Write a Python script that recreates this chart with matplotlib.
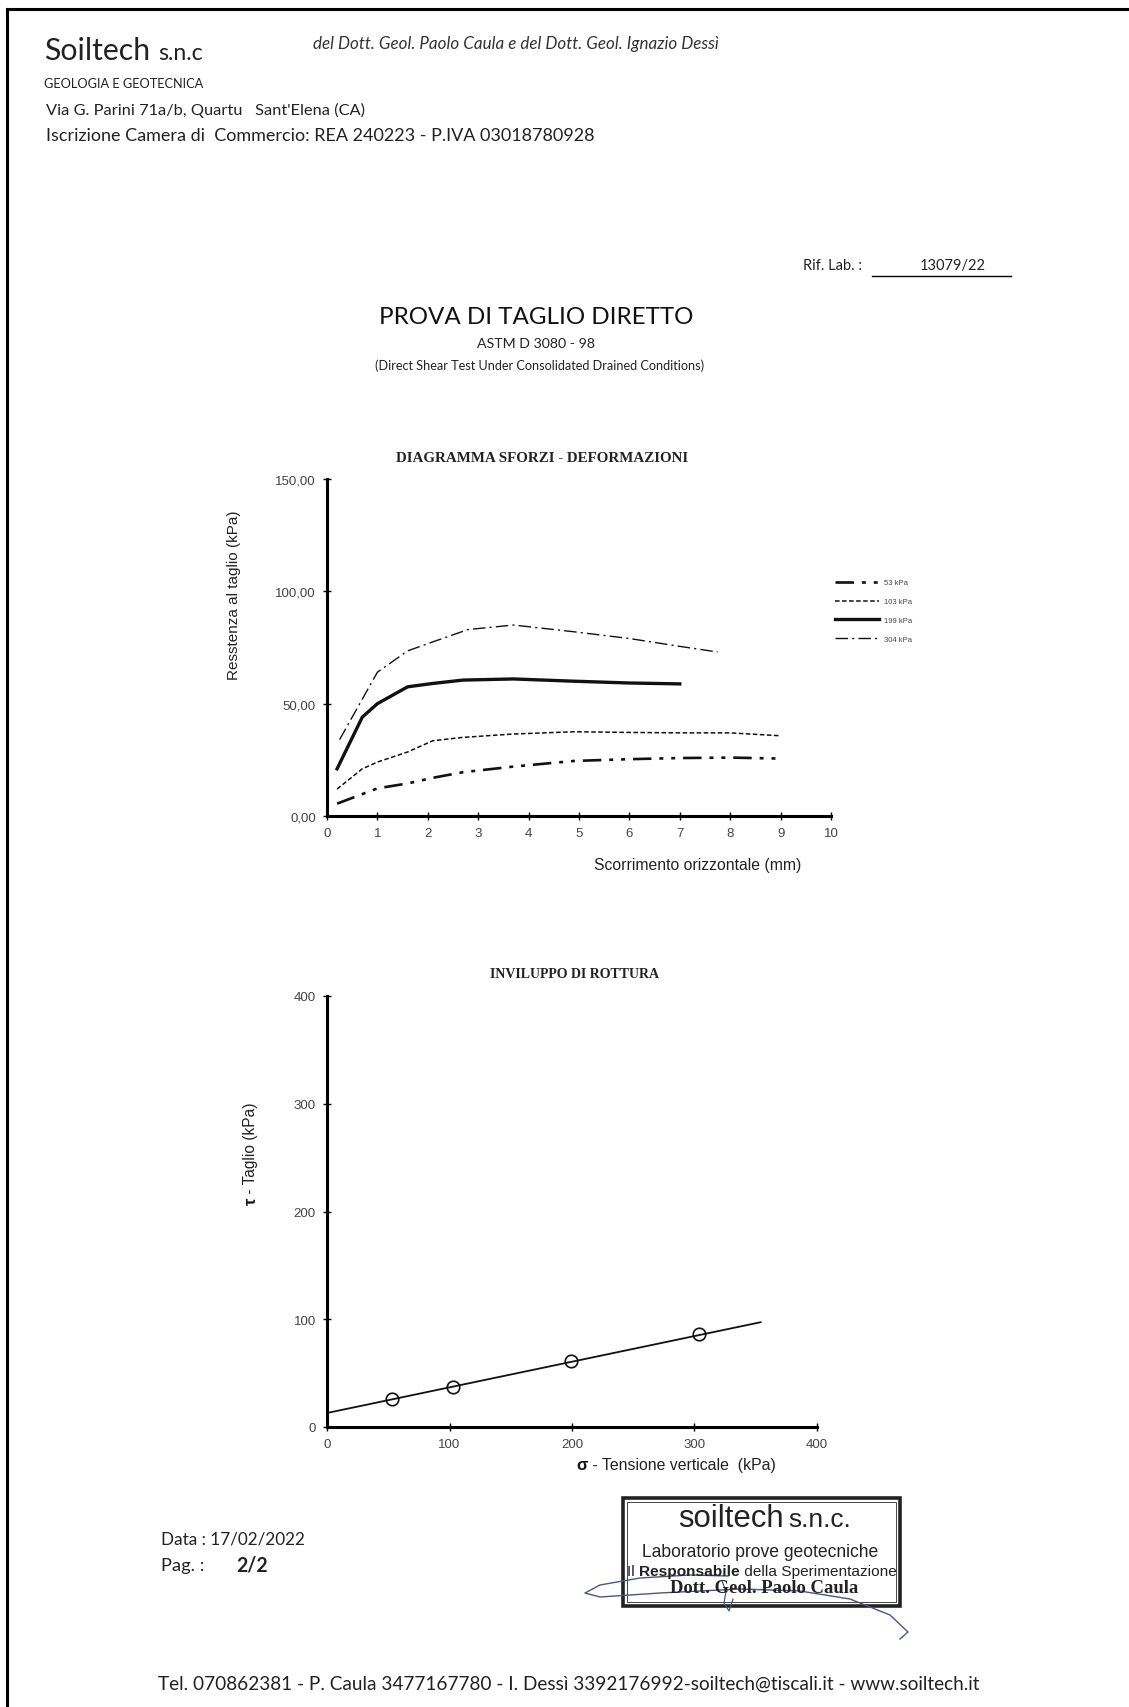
import matplotlib
matplotlib.use("Agg")
import matplotlib.pyplot as plt
from matplotlib.lines import Line2D
from matplotlib.patches import Rectangle
import numpy as np

# ---------------- data ----------------
x_53 = [0.2, 1.0, 1.6, 2.1, 2.7, 3.7, 4.9, 6.0, 7.0, 8.0, 8.9]
y_53 = [5.5, 12.3, 14.5, 17.0, 19.5, 22.0, 24.5, 25.3, 25.8, 26.0, 25.6]
x_103 = [0.2, 0.7, 1.0, 1.6, 2.1, 2.7, 3.7, 4.9, 6.0, 7.0, 8.0, 9.0]
y_103 = [12.0, 21.0, 24.0, 28.5, 33.5, 35.0, 36.5, 37.5, 37.2, 37.0, 37.0, 35.7]
x_199 = [0.2, 0.7, 1.0, 1.6, 2.1, 2.7, 3.7, 4.9, 6.0, 7.0]
y_199 = [21.0, 44.0, 50.0, 57.5, 59.0, 60.5, 61.0, 60.0, 59.2, 58.8]
x_304 = [0.25, 1.0, 1.6, 2.1, 2.8, 3.7, 4.9, 6.0, 7.0, 7.75]
y_304 = [34.0, 64.0, 73.5, 77.5, 83.0, 85.0, 82.0, 79.0, 75.5, 73.0]
legend_labels = ["53 kPa", "103 kPa", "199 kPa", "304 kPa"]

sigma = [53, 103, 199, 304]
tau = [26, 37, 61, 86]
env_c = 13.0          # intercept (kPa)
env_slope = 0.238     # tan(phi)
env_xmax = 354

top_xticks = list(range(0, 11))
top_yticks = [0, 50, 100, 150]
bot_ticks = [0, 100, 200, 300, 400]

# ---------------- figure ----------------
W, H = 1129, 1708
fig = plt.figure(figsize=(W / 100, H / 100), dpi=100)
fig.patch.set_facecolor("white")
R = fig.canvas.get_renderer()

HEAD = ["Lato", "DejaVu Sans"]
ARIAL = ["Liberation Sans", "DejaVu Sans"]
TIMES = ["Liberation Serif", "DejaVu Serif"]


def T(x, y, s, size, width=None, ha="left", va="center", **kw):
    t = fig.text(x / W, 1 - y / H, s, fontsize=size, ha=ha, va=va, **kw)
    if width:
        w = t.get_window_extent(R).width
        t.set_fontsize(size * width / w)
    return t


def T_pieces(x, y, pieces, size, width, **kw):
    """Left-aligned run of text pieces (text, weight) fitted to a total width."""
    tmp = [fig.text(0, 0, s, fontsize=size, weight=w, **kw) for s, w in pieces]
    tot = sum(t.get_window_extent(R).width for t in tmp)
    for t in tmp:
        t.remove()
    size = size * width / tot
    for s, w in pieces:
        t = T(x, y, s, size, weight=w, **kw)
        x += t.get_window_extent(R).width


def fline(xs, ys, **kw):
    fig.add_artist(Line2D([x / W for x in xs], [1 - y / H for y in ys],
                          transform=fig.transFigure, **kw))


# page border (top and left)
fline([7, W], [10, 10], color="black", lw=2.2)
fline([7, 7], [10, H], color="black", lw=2.2)

# header
T(44, 60, "Soiltech", 18, width=106, va="baseline", family=HEAD, color="#222")
T(158, 60, "s.n.c", 11, width=45, va="baseline", family=HEAD, color="#222")
T(313, 44, "del Dott. Geol. Paolo Caula e del Dott. Geol. Ignazio Dessì", 8,
  width=406, family=HEAD, style="italic", color="#333")
T(44, 84, "GEOLOGIA E GEOTECNICA", 9, width=160, family=HEAD, color="#222")
T(46, 110, "Via G. Parini 71a/b, Quartu   Sant'Elena (CA)", 11, width=317,
  family=HEAD, color="#222")
T(46, 136, "Iscrizione Camera di  Commercio: REA 240223 - P.IVA 03018780928", 11,
  width=548, family=HEAD, color="#222")

T(803, 266, "Rif. Lab. :", 10.5, family=HEAD, color="#222")
T(920, 266, "13079/22", 10.5, family=HEAD, color="#222")
fline([872, 1011], [277, 277], color="black", lw=1.0)

T(536, 317, "PROVA DI TAGLIO DIRETTO", 16, width=314, ha="center", family=HEAD, color="#111")
T(536, 344, "ASTM D 3080 - 98", 9, width=118, ha="center", family=HEAD, color="#222")
T(540, 366, "(Direct Shear Test Under Consolidated Drained Conditions)", 7, width=328,
  ha="center", family=HEAD, color="#222")

# ---------------- top chart ----------------
L1, R1, T1, B1 = 327, 831, 480, 817
ax1 = fig.add_axes([L1 / W, 1 - B1 / H, (R1 - L1) / W, (B1 - T1) / H])
ax1.set_xlim(0, 10)
ax1.set_ylim(0, 150)
h53, = ax1.plot(x_53, y_53, color="#111", lw=1.9, dashes=(7, 3, 1.5, 3, 1.5, 3), clip_on=False)
h103, = ax1.plot(x_103, y_103, color="#111", lw=1.1, dashes=(3, 1.6), clip_on=False)
h199, = ax1.plot(x_199, y_199, color="#111", lw=2.4, clip_on=False)
h304, = ax1.plot(x_304, y_304, color="#111", lw=1.0, dashes=(9, 3, 1.5, 3), clip_on=False)

ax1.set_xticks(top_xticks)
ax1.set_yticks(top_yticks)
ax1.set_yticklabels([f"{v:.2f}".replace(".", ",") for v in top_yticks])

ax1.set_title("DIAGRAMMA SFORZI - DEFORMAZIONI", family=TIMES, weight="bold",
              fontsize=10.8, color="#222", x=(542 - L1) / (R1 - L1),
              y=1 + (T1 - 459) / (B1 - T1), va="center", pad=0)
ax1.set_xlabel("Scorrimento orizzontale (mm)", family=ARIAL, fontsize=11.3, color="#222",
               va="center")
ax1.xaxis.set_label_coords((698 - L1) / (R1 - L1), (B1 - 866) / (B1 - T1))
ax1.set_ylabel("Resstenza al taglio (kPa)", family=ARIAL, fontsize=11, color="#222",
               va="center")
ax1.yaxis.set_label_coords((234 - L1) / (R1 - L1), (B1 - 595) / (B1 - T1))

fig.legend([h53, h103, h199, h304], legend_labels, loc="center left",
           bbox_to_anchor=(835 / W, 1 - 612 / H), frameon=False,
           handlelength=5.8, handletextpad=0.65, labelspacing=1.5, borderpad=0,
           borderaxespad=0, prop={"family": ARIAL, "size": 5.5}, labelcolor="#444")

# ---------------- bottom chart ----------------
L2, R2, T2, B2 = 327, 817, 997, 1428
ax2 = fig.add_axes([L2 / W, 1 - B2 / H, (R2 - L2) / W, (B2 - T2) / H])
ax2.set_xlim(0, 400)
ax2.set_ylim(0, 400)
xe = np.array([0, env_xmax])
ax2.plot(xe, env_c + env_slope * xe, color="#111", lw=1.3, clip_on=False)
ax2.plot(sigma, tau, linestyle="none", marker="o", markersize=9, markerfacecolor="none",
         markeredgecolor="#111", markeredgewidth=1.2, clip_on=False)
ax2.set_xticks(bot_ticks)
ax2.set_yticks(bot_ticks)
ax2.set_title("INVILUPPO DI ROTTURA", family=TIMES, weight="bold", fontsize=10,
              color="#222", x=(574 - L2) / (R2 - L2),
              y=1 + (T2 - 975) / (B2 - T2), va="center", pad=0)

# axis labels with bold greek symbol
xl_sym = ax2.text(0, 0, "σ", fontsize=12, weight="bold", family=ARIAL, color="#111")
xl_rest = ax2.text(0, 0, " - Tensione verticale  (kPa)", fontsize=11.4, family=ARIAL,
                   color="#222")
w_sym = xl_sym.get_window_extent(R).width
w_rest = xl_rest.get_window_extent(R).width
x_start = 676 - (w_sym + w_rest) / 2
xl_sym.set_transform(fig.transFigure)
xl_rest.set_transform(fig.transFigure)
xl_sym.set_position((x_start / W, 1 - 1466 / H))
xl_rest.set_position(((x_start + w_sym) / W, 1 - 1466 / H))
for t in (xl_sym, xl_rest):
    t.set_va("center")
    t.set_clip_on(False)

yl_sym = ax2.text(0, 0, "τ", fontsize=12, weight="bold", family=ARIAL, color="#111",
                  rotation=90)
yl_rest = ax2.text(0, 0, " - Taglio (kPa)", fontsize=11.2, family=ARIAL, color="#222",
                   rotation=90)
h_sym = yl_sym.get_window_extent(R).height
h_rest = yl_rest.get_window_extent(R).height
y_start = 1154 + (h_sym + h_rest) / 2
for t in (yl_sym, yl_rest):
    t.set_transform(fig.transFigure)
    t.set_ha("center")
    t.set_va("bottom")
    t.set_clip_on(False)
yl_sym.set_position((251 / W, 1 - y_start / H))
yl_rest.set_position((251 / W, 1 - (y_start - h_sym) / H))

for a in (ax1, ax2):
    a.set_facecolor("none")
    for s in ("top", "right"):
        a.spines[s].set_visible(False)
    for s in ("left", "bottom"):
        a.spines[s].set_linewidth(2.2)
        a.spines[s].set_color("black")
    a.tick_params(direction="inout", length=6, width=1.0, colors="black",
                  labelcolor="#444", labelsize=9.5, pad=5)
    for lab in a.get_xticklabels() + a.get_yticklabels():
        lab.set_family(ARIAL)

# ---------------- footer ----------------
T(161, 1540, "Data : 17/02/2022", 10, width=144, family=HEAD, color="#222")
T(161, 1566, "Pag. :", 10, width=43, family=HEAD, color="#222")
T(236, 1566, "2/2", 10, width=32, family=HEAD, weight="bold", color="#222")
T(569, 1684, "Tel. 070862381 - P. Caula 3477167780 - I. Dessì 3392176992-soiltech@tiscali.it - www.soiltech.it",
  10, width=823, ha="center", family=HEAD, color="#222")

# stamp
bx0, by0, bx1, by1 = 623, 1499, 900, 1607
fig.add_artist(Rectangle((bx0 / W, 1 - by1 / H), (bx1 - bx0) / W, (by1 - by0) / H,
                         transform=fig.transFigure, fill=False, lw=2.6, edgecolor="#222"))
fig.add_artist(Rectangle(((bx0 + 4) / W, 1 - (by1 - 4) / H), (bx1 - bx0 - 8) / W,
                         (by1 - by0 - 8) / H, transform=fig.transFigure, fill=False,
                         lw=0.7, edgecolor="#444"))
T(678, 1527, "soiltech", 22, width=105, va="baseline", family=ARIAL, color="#222")
T(788, 1527, "s.n.c.", 13, width=62, va="baseline", family=ARIAL, color="#222")
T(760, 1553, "Laboratorio prove geotecniche", 11, width=236, ha="center", family=ARIAL, color="#222")
T_pieces(627, 1572, [("Il ", "normal"), ("Responsabile", "bold"),
                     (" della Sperimentazione", "normal")], 9.3, 268,
         family=ARIAL, color="#222")
T(764, 1589, "Dott. Geol. Paolo Caula", 11, width=188, ha="center", family=TIMES,
  weight="bold", color="#222")

# signature (decoration)
sig_col = "#4a5680"
fline([728, 690, 640, 600, 585, 600, 660, 740, 800, 850, 890, 908, 900],
      [1577, 1576, 1579, 1586, 1594, 1598, 1594, 1590, 1592, 1600, 1616, 1633, 1640],
      color=sig_col, lw=1.0)
fline([722, 726, 724, 729, 733], [1582, 1592, 1604, 1612, 1600], color=sig_col, lw=0.9)

fig.savefig("out.png", dpi=100, facecolor="white")
